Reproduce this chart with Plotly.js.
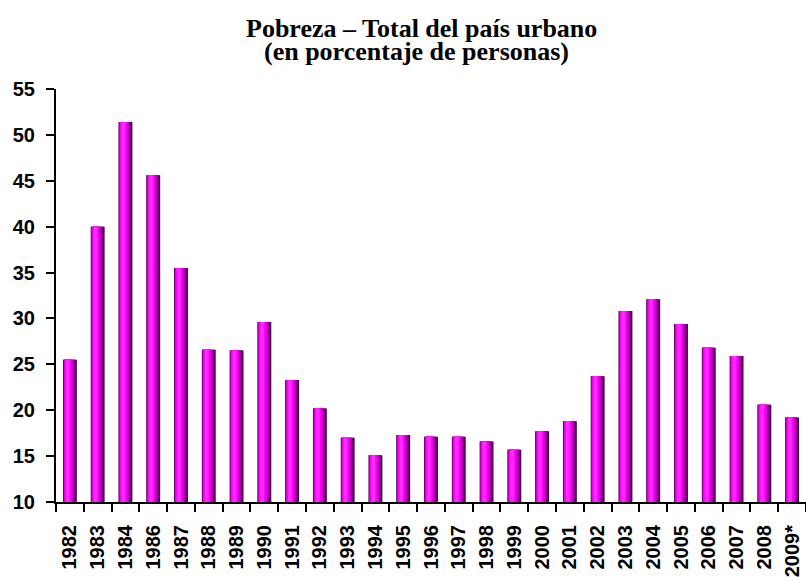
<!DOCTYPE html>
<html>
<head>
<meta charset="utf-8">
<script src="https://cdn.plot.ly/plotly-3.0.1.min.js"></script>
<style>html,body{margin:0;padding:0;background:#fff;}#chart{width:806px;height:580px;}</style>
</head>
<body>
<div id="chart"></div>
<script>
// ---- data ----
const years = ['1982','1983','1984','1986','1987','1988','1989','1990','1991','1992','1993','1994','1995','1996','1997','1998','1999','2000','2001','2002','2003','2004','2005','2006','2007','2008','2009*'];
const poverty = [25.5, 40.0, 51.4, 45.6, 35.5, 26.6, 26.5, 29.6, 23.3, 20.2, 17.0, 15.1, 17.3, 17.1, 17.1, 16.6, 15.7, 17.7, 18.8, 23.7, 30.8, 32.1, 29.4, 26.8, 25.9, 20.6, 19.2];
const yTicks = [10, 15, 20, 25, 30, 35, 40, 45, 50, 55];
const titleLines = ['Pobreza – Total del país urbano', '(en porcentaje de personas)'];

// ---- style: cylinder shading as nested layers [left, right, colour] relative to category centre ----
const layers = [
  [-0.25, 0.25, '#440044'],
  [-0.235, 0.21, '#760076'],
  [-0.222, 0.16, '#a400a4'],
  [-0.21, 0.11, '#cc00cc'],
  [-0.198, 0.07, '#ea00ea'],
  [-0.185, 0.035, '#ff00ff'],
  [-0.14, -0.01, '#ff2cff']
];

const traces = layers.map(([l, r, c]) => ({
  type: 'bar',
  x: years,
  y: poverty,
  width: years.map(() => r - l),
  offset: years.map(() => l),
  marker: {color: c, line: {width: 0}},
  hoverinfo: 'skip',
  showlegend: false
}));

const titleFont = {family: '"Liberation Serif", "Times New Roman", serif', size: 26, color: '#000'};
const tickFont = {family: '"Liberation Sans", Arial, sans-serif', size: 20, color: '#000', weight: 'bold'};

const layout = {
  width: 806,
  height: 580,
  paper_bgcolor: '#ffffff',
  plot_bgcolor: '#ffffff',
  barmode: 'overlay',
  margin: {l: 56, r: 0, t: 89, b: 78},
  annotations: [
    {text: '<b>' + titleLines[0] + '</b>', xref: 'paper', x: (421 - 56) / 750, xanchor: 'center',
     yref: 'paper', y: (502 - 28) / 413, yanchor: 'middle', showarrow: false, font: titleFont},
    {text: '<b>' + titleLines[1] + '</b>', xref: 'paper', x: (416 - 56) / 750, xanchor: 'center',
     yref: 'paper', y: (502 - 52) / 413, yanchor: 'middle', showarrow: false, font: titleFont}
  ],
  xaxis: {
    type: 'category',
    range: [-0.5, years.length - 0.5],
    tickson: 'boundaries',
    ticks: 'outside', ticklen: 8, tickwidth: 2, tickcolor: '#000',
    showline: true, linecolor: '#000', linewidth: 2,
    showgrid: false, zeroline: false,
    tickangle: -90,
    ticklabelstandoff: 13,
    tickfont: tickFont
  },
  yaxis: {
    range: [10, 55],
    tickvals: yTicks,
    ticktext: yTicks.map(String),
    ticks: 'outside', ticklen: 8, tickwidth: 2, tickcolor: '#000',
    showline: true, linecolor: '#000', linewidth: 2,
    showgrid: false, zeroline: false,
    ticklabelstandoff: 7,
    tickfont: tickFont
  }
};

Plotly.newPlot('chart', traces, layout, {staticPlot: true, displayModeBar: false});
</script>
</body>
</html>
